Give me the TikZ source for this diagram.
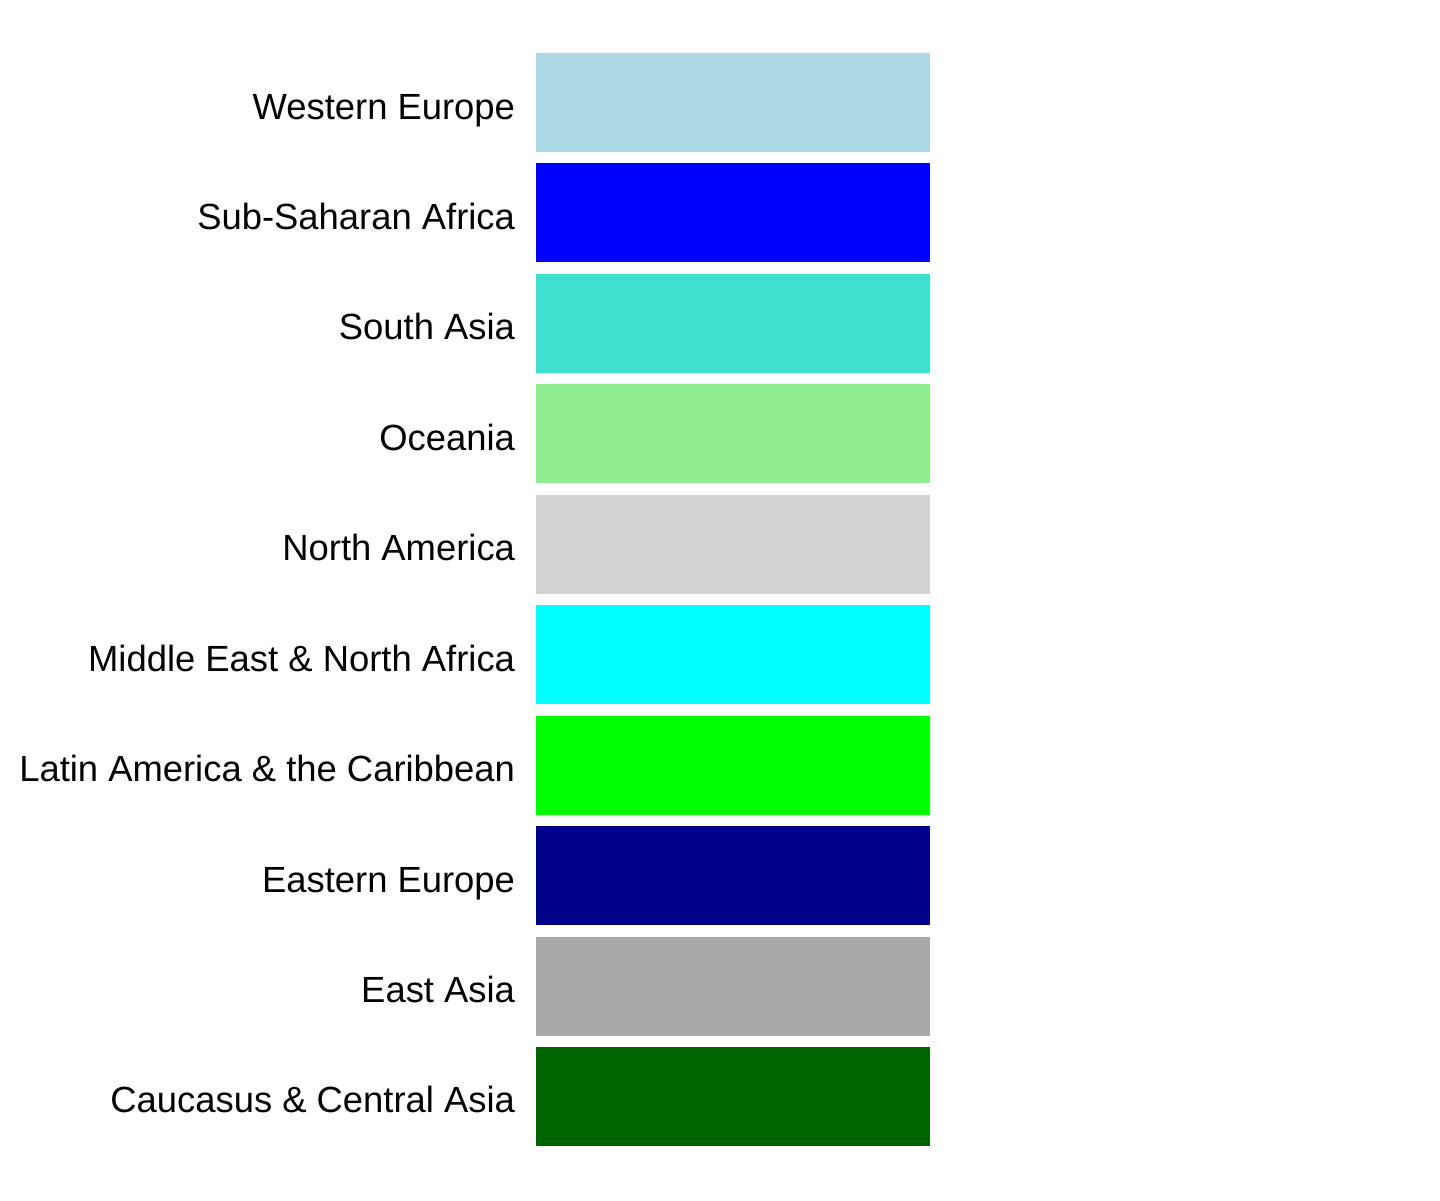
\documentclass[tikz,border=0pt]{standalone}
\usepackage{fontspec}
\setmainfont{Liberation Sans}
\usepackage{xcolor}
\usetikzlibrary{positioning}
\definecolor{wEur}{RGB}{173,216,230}
\definecolor{sAsia}{RGB}{64,224,208}
\definecolor{ocea}{RGB}{144,238,144}
\definecolor{nAm}{RGB}{211,211,211}
\definecolor{mena}{RGB}{0,255,255}
\definecolor{eEur}{RGB}{0,0,139}
\definecolor{eAsia}{RGB}{169,169,169}
\definecolor{cAsia}{RGB}{0,100,0}

\begin{document}
\begin{tikzpicture}[node distance=5.72pt,b/.style={minimum width=197pt,minimum height=49.5pt,inner sep=0pt,outer sep=0pt},lab/.style={left=10.5pt of #1,anchor=base east,yshift=-8.25pt,font=\fontsize{18.2}{21}\selectfont,inner sep=0pt,outer sep=0pt}]
\useasboundingbox (0,0) rectangle (720pt,-600pt);
\node[b,fill=wEur,anchor=north west] (we) at (268pt,-26.5pt) {};
\node[b,fill=blue,below=of we] (ssa) {};
\node[b,fill=sAsia,below=of ssa] (sa) {};
\node[b,fill=ocea,below=of sa] (oc) {};
\node[b,fill=nAm,below=of oc] (na) {};
\node[b,fill=mena,below=of na] (mena) {};
\node[b,fill=green,below=of mena] (lac) {};
\node[b,fill=eEur,below=of lac] (ee) {};
\node[b,fill=eAsia,below=of ee] (ea) {};
\node[b,fill=cAsia,below=of ea] (cca) {};
\node[lab=we] (twe) {Western Europe};
\node[lab=ssa] (tssa) {Sub-Saharan Africa};
\node[lab=sa] (tsa) {South Asia};
\node[lab=oc] (toc) {Oceania};
\node[lab=na] (tna) {North America};
\node[lab=mena] (tmena) {Middle East \& North Africa};
\node[lab=lac] (tlac) {Latin America \& the Caribbean};
\node[lab=ee] (tee) {Eastern Europe};
\node[lab=ea] (tea) {East Asia};
\node[lab=cca] (tcca) {Caucasus \& Central Asia};
\end{tikzpicture}
\end{document}
